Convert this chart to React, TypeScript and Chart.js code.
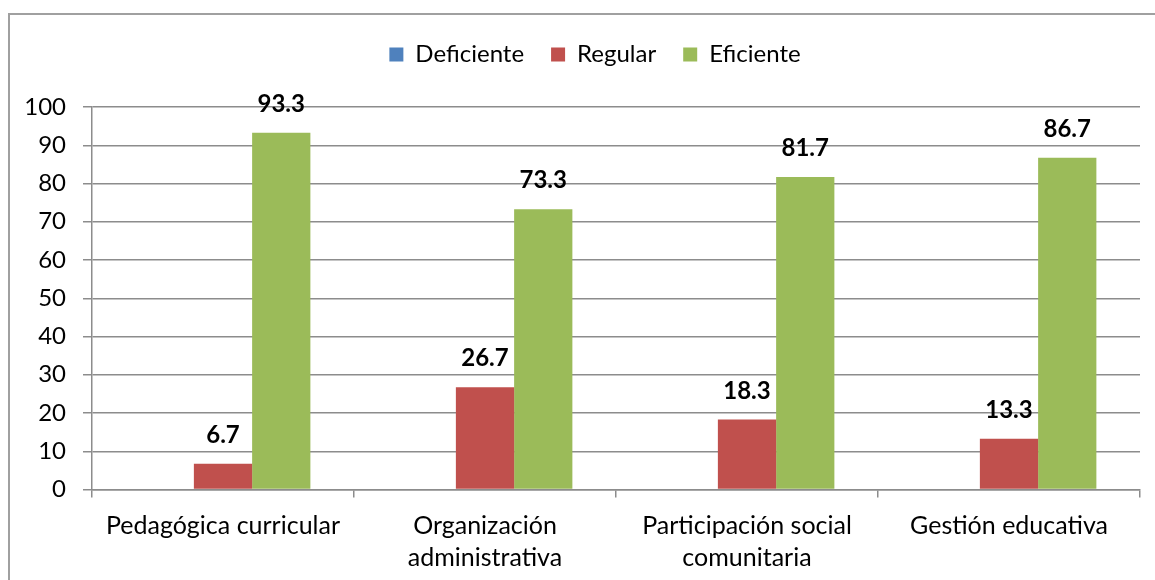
import React, { useEffect, useRef } from "react";
import { Chart, registerables } from "chart.js";

Chart.register(...registerables);

const categories: string[][] = [
  ["Pedagógica curricular"],
  ["Organización", "administrativa"],
  ["Participación social", "comunitaria"],
  ["Gestión educativa"],
];
const seriesNames = ["Deficiente", "Regular", "Eficiente"];
const deficiente = [0, 0, 0, 0];
const regular = [6.7, 26.7, 18.3, 13.3];
const eficiente = [93.3, 73.3, 81.7, 86.7];
const yTicks = { min: 0, max: 100, step: 10 };

const FONT = "Lato, 'Open Sans', sans-serif";
const GRID = "#8c8c8c";

export default function App() {
  const ref = useRef<HTMLCanvasElement>(null);

  useEffect(() => {
    if (!ref.current) return;

    const framePlugin = {
      id: "frame",
      beforeDraw(chart: any) {
        const { ctx } = chart;
        ctx.save();
        ctx.fillStyle = "#ffffff";
        ctx.fillRect(0, 0, chart.width, chart.height);
        ctx.strokeStyle = "#a0a0a0";
        ctx.lineWidth = 2;
        ctx.strokeRect(9, 14, chart.width + 20, chart.height + 20);
        ctx.restore();
      },
    };

    const legendFix = {
      id: "legendFix",
      afterInit(chart: any) {
        const lg = chart.legend;
        if (lg && !lg.__patched) {
          const f = lg.fit.bind(lg);
          lg.fit = function () {
            f();
            this.height = 91.5;
          };
          lg.__patched = true;
        }
      },
      afterLayout(chart: any) {
        const lg = chart.legend;
        if (lg) lg.left = lg.left + 50;
      },
    };

    const valueLabels = {
      id: "valueLabels",
      afterDatasetsDraw(chart: any) {
        const ctx = chart.ctx;
        ctx.save();
        ctx.font = `bold 24px ${FONT}`;
        ctx.fillStyle = "#000";
        ctx.textAlign = "center";
        ctx.textBaseline = "alphabetic";
        chart.data.datasets.forEach((ds: any, i: number) => {
          const meta = chart.getDatasetMeta(i);
          meta.data.forEach((el: any, j: number) => {
            const v = ds.data[j] as number;
            if (!v) return;
            ctx.fillText(v.toFixed(1), el.x, el.y - 21);
          });
        });
        ctx.restore();
      },
    };

    const chart = new Chart(ref.current, {
      type: "bar",
      data: {
        labels: categories,
        datasets: [
          { label: seriesNames[0], data: deficiente, backgroundColor: "#4F81BD" },
          { label: seriesNames[1], data: regular, backgroundColor: "#C0504D" },
          { label: seriesNames[2], data: eficiente, backgroundColor: "#9BBB59" },
        ],
      },
      options: {
        animation: false,
        responsive: true,
        maintainAspectRatio: false,
        layout: { padding: { top: 15.5, left: 0, right: 15, bottom: 0 } },
        datasets: {
          bar: { categoryPercentage: 0.667, barPercentage: 1 },
        },
        plugins: {
          legend: {
            position: "top",
            align: "center",
            labels: {
              boxWidth: 14,
              boxHeight: 14,
              padding: 27,
              color: "#000",
              font: { family: FONT, size: 24 },
            },
          },
          tooltip: { enabled: false },
        },
        scales: {
          x: {
            offset: true,
            grid: {
              offset: true,
              drawOnChartArea: false,
              drawTicks: true,
              tickLength: 8,
              color: GRID,
              lineWidth: 1.5,
            },
            border: { display: true, color: GRID, width: 1.5 },
            ticks: {
              color: "#000",
              font: { family: FONT, size: 25, lineHeight: 32 / 25 },
              padding: 12,
              maxRotation: 0,
              autoSkip: false,
            },
            afterFit(scale: any) {
              scale.height = 580 - 489.5;
            },
          },
          y: {
            min: yTicks.min,
            max: yTicks.max,
            grid: {
              color: GRID,
              lineWidth: 1.5,
              drawTicks: true,
              tickLength: 9,
            },
            border: { display: true, color: GRID, width: 1.5 },
            ticks: {
              stepSize: yTicks.step,
              color: "#000",
              font: { family: FONT, size: 24 },
              padding: 17,
            },
            afterFit(scale: any) {
              scale.width = 92;
            },
          },
        },
      },
      plugins: [framePlugin, legendFix, valueLabels],
    });

    return () => chart.destroy();
  }, []);

  return (
    <div style={{ position: "fixed", left: 0, top: 0, width: 1155, height: 580 }}>
      <canvas ref={ref} />
    </div>
  );
}
